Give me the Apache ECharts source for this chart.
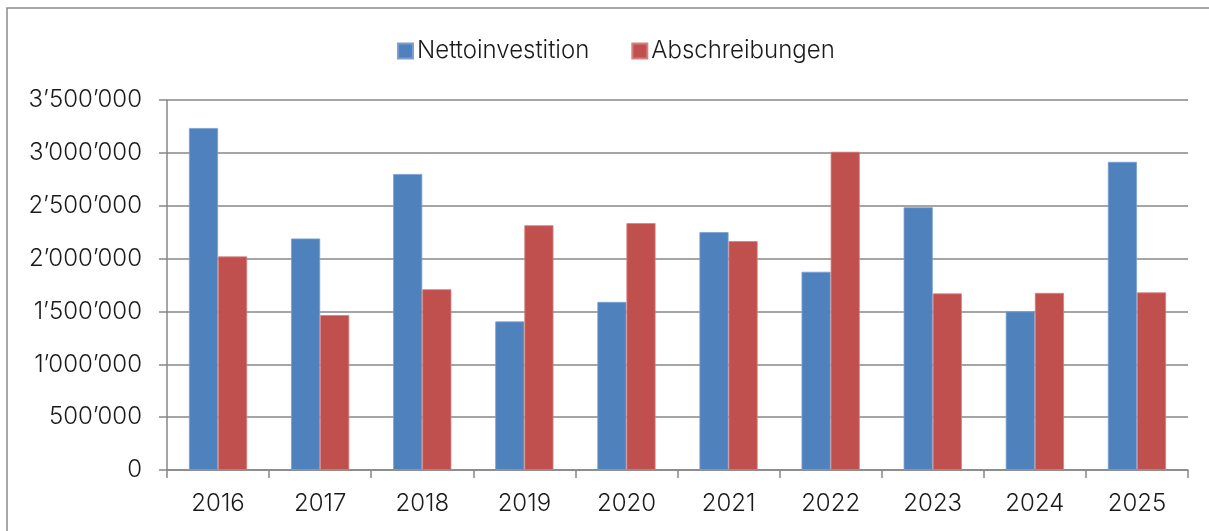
<!DOCTYPE html>
<html>
<head>
<meta charset="utf-8">
<script src="https://cdn.jsdelivr.net/npm/echarts@6/dist/echarts.min.js"></script>
<style>
  html, body { margin: 0; padding: 0; background: #fff; }
  #chart { width: 1209px; height: 531px; }
</style>
</head>
<body>
<div id="chart"></div>
<script>
// Jahre auf der x-Achse
var years = ['2016', '2017', '2018', '2019', '2020', '2021', '2022', '2023', '2024', '2025']
var seriesNames = ['Nettoinvestition', 'Abschreibungen']
var nettoinvestition = [3235000, 2190000, 2800000, 1405000, 1590000, 2250000, 1875000, 2485000, 1500000, 2915000]
var abschreibungen = [2020000, 1465000, 1710000, 2315000, 2335000, 2165000, 3010000, 1670000, 1675000, 1680000]
var yTickLabels = ['0', '500’000', '1’000’000', '1’500’000', '2’000’000', '2’500’000', '3’000’000', '3’500’000']
var yStep = 500000

var font = 'Inter, "Liberation Sans", Arial, sans-serif'
var axisGray = '#878787'

var myChart = echarts.init(document.getElementById('chart'))
myChart.setOption({
  animation: false,
  textStyle: { fontFamily: font },
  color: ['#4F81BD', '#C0504D'],
  graphic: [
    {
      // Rahmen des Diagramms (oben und links sichtbar)
      type: 'rect',
      shape: { x: 7, y: 8, width: 1400, height: 700 },
      style: { fill: 'none', stroke: '#8a8a8a', lineWidth: 1.5 },
      silent: true
    }
  ],
  legend: {
    data: seriesNames,
    left: 392,
    top: 34,
    icon: 'rect',
    itemWidth: 15,
    itemHeight: 15,
    itemGap: 42,
    textStyle: { fontSize: 24, fontWeight: 300, color: '#1a1a1a', fontFamily: font, padding: [0, 0, 0, -1] }
  },
  grid: {
    left: 167,
    right: 21,
    top: 100,
    bottom: 61,
    containLabel: false
  },
  xAxis: {
    type: 'category',
    data: years,
    axisLine: { lineStyle: { color: axisGray, width: 1.5 } },
    axisTick: { show: true, length: 8, lineStyle: { color: axisGray, width: 1.5 } },
    axisLabel: { fontSize: 24, fontWeight: 300, color: '#1a1a1a', margin: 22, fontFamily: font }
  },
  yAxis: {
    type: 'value',
    min: 0,
    max: 3500000,
    interval: yStep,
    axisLine: { show: true, lineStyle: { color: axisGray, width: 1.5 } },
    axisTick: { show: true, length: 8, lineStyle: { color: axisGray, width: 1.5 } },
    splitLine: { lineStyle: { color: axisGray, width: 1.5 } },
    axisLabel: {
      fontSize: 24,
      fontWeight: 300,
      color: '#1a1a1a',
      margin: 25,
      fontFamily: font,
      formatter: function (v) {
        return yTickLabels[Math.round(v / yStep)]
      }
    }
  },
  series: [
    {
      name: seriesNames[0],
      type: 'bar',
      data: nettoinvestition,
      barGap: '0%',
      barCategoryGap: '43%',
      itemStyle: { borderColor: '#7b9fd0', borderWidth: 0.8 }
    },
    {
      name: seriesNames[1],
      type: 'bar',
      data: abschreibungen,
      barGap: '0%',
      barCategoryGap: '43%',
      itemStyle: { borderColor: '#d77f7c', borderWidth: 0.8 }
    }
  ]
})
</script>
</body>
</html>
